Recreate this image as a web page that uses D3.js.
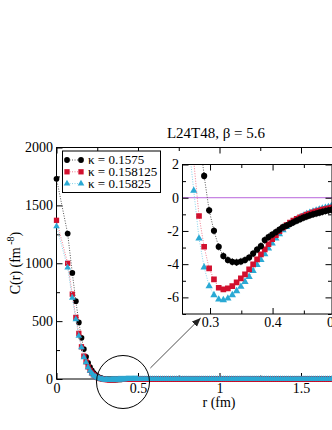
<!DOCTYPE html>
<html>
<meta charset="utf-8">
<head>
  <title>C(r) L24T48</title>
</head>
<style>
  body { margin: 0; background: #fff; }
  svg { display: block; }
  text { font-family: "Liberation Serif", "DejaVu Serif", serif; fill: #000; }
  .axis .domain { display: none; }
  .axis line { stroke: #000; }
  .axis text { font-size: 14px; }
</style>
<script src="https://d3js.org/d3.v7.min.js"></script>
<body>
<svg width="332" height="430"></svg>
<script>
  // lattice distances r (fm)
  var rLattice = [0, 0.0685, 0.0969, 0.1186, 0.137, 0.1532, 0.1678, 0.1812, 0.1937, 0.2055,
    0.2166, 0.2272, 0.2373, 0.247, 0.2563, 0.2653, 0.274, 0.2824, 0.2906, 0.2986,
    0.3063, 0.3139, 0.3213, 0.3285, 0.3356, 0.3425, 0.3493, 0.3559, 0.3625, 0.3689,
    0.3752, 0.3814, 0.3875, 0.3935, 0.3994, 0.4053, 0.411, 0.4167, 0.4223, 0.4278,
    0.4332, 0.4386, 0.4439, 0.4492, 0.4544, 0.4595, 0.4646, 0.4696, 0.4746, 0.4795,
    0.4844, 0.4892, 0.494, 0.4987];

  var cBlack = [1730, 1256, 916, 672, 489, 356, 259, 192, 140, 102, 74, 53, 37, 26, 17, 11, 7, 4.0,
    1.31, -0.76, -1.99, -2.95, -3.51, -3.75, -3.86, -3.89, -3.84, -3.75, -3.60, -3.36, -3.12, -2.91,
    -2.55, -2.37, -2.22, -2.07, -1.92, -1.77, -1.68, -1.58, -1.48, -1.38, -1.29, -1.2, -1.13, -1.06,
    -1.0, -0.95, -0.9, -0.85, -0.8, -0.76, -0.73, -0.7];
  var cRed = [1371, 1000, 733, 532, 394, 278, 198, 149, 105, 75, 52, 36, 24, 15, 9, 5, 2.2, -1.10,
    -2.95, -4.25, -4.92, -5.42, -5.52, -5.46, -5.32, -5.10, -4.86, -4.61, -4.31, -4.01, -3.71, -3.41,
    -3.11, -2.8, -2.5, -2.25, -2.02, -1.8, -1.64, -1.5, -1.38, -1.27, -1.18, -1.1, -1.02, -0.95,
    -0.88, -0.82, -0.77, -0.72, -0.68, -0.64, -0.6, -0.57];
  var cCyan = [1319, 962, 701, 515, 373, 273, 187, 145, 100, 70, 48, 32, 21, 13, 7.5, 3.5, 0.42, -2.45,
    -4.19, -5.32, -5.86, -6.12, -6.16, -6.06, -5.86, -5.62, -5.36, -5.06, -4.76, -4.40, -4.05, -3.75,
    -3.39, -3.05, -2.75, -2.45, -2.2, -1.95, -1.75, -1.58, -1.43, -1.3, -1.18, -1.08, -0.98, -0.9,
    -0.83, -0.76, -0.7, -0.65, -0.6, -0.55, -0.5, -0.47];

  // long-distance tail (near zero on the main scale)
  var rTail = [
    0.5125, 0.525, 0.5375, 0.55, 0.5625, 0.575, 0.5875, 0.6,
    0.6125, 0.625, 0.6375, 0.65, 0.6625, 0.675, 0.6875, 0.7,
    0.7125, 0.725, 0.7375, 0.75, 0.7625, 0.775, 0.7875, 0.8,
    0.8125, 0.825, 0.8375, 0.85, 0.8625, 0.875, 0.8875, 0.9,
    0.9125, 0.925, 0.9375, 0.95, 0.9625, 0.975, 0.9875, 1.0,
    1.0125, 1.025, 1.0375, 1.05, 1.0625, 1.075, 1.0875, 1.1,
    1.1125, 1.125, 1.1375, 1.15, 1.1625, 1.175, 1.1875, 1.2,
    1.2125, 1.225, 1.2375, 1.25, 1.2625, 1.275, 1.2875, 1.3,
    1.3125, 1.325, 1.3375, 1.35, 1.3625, 1.375, 1.3875, 1.4,
    1.4125, 1.425, 1.4375, 1.45, 1.4625, 1.475, 1.4875, 1.5,
    1.5125, 1.525, 1.5375, 1.55, 1.5625, 1.575, 1.5875, 1.6,
    1.6125, 1.625, 1.6375, 1.65, 1.6625, 1.675, 1.6875, 1.7,
    1.7125, 1.725, 1.7375, 1.75];
  var cTail = [
    -0.55, -0.52, -0.48, -0.45, -0.42, -0.39, -0.36, -0.34,
    -0.32, -0.3, -0.28, -0.26, -0.24, -0.23, -0.21, -0.2,
    -0.19, -0.18, -0.17, -0.16, -0.15, -0.14, -0.13, -0.12,
    -0.12, -0.11, -0.1, -0.1, -0.09, -0.09, -0.08, -0.08,
    -0.07, -0.07, -0.06, -0.06, -0.06, -0.06, -0.05, -0.05,
    -0.05, -0.05, -0.04, -0.04, -0.04, -0.04, -0.04, -0.04,
    -0.03, -0.03, -0.03, -0.03, -0.03, -0.03, -0.03, -0.03,
    -0.02, -0.02, -0.02, -0.02, -0.02, -0.02, -0.02, -0.02,
    -0.02, -0.02, -0.02, -0.02, -0.01, -0.01, -0.01, -0.01,
    -0.01, -0.01, -0.01, -0.01, -0.01, -0.01, -0.01, -0.01,
    -0.01, -0.01, -0.01, -0.01, -0.01, -0.01, 0, 0,
    0, 0, 0, 0, 0, 0, 0, 0,
    0, 0, 0, 0];

  var kappaLabels = ["\u03ba = 0.1575", "\u03ba = 0.158125", "\u03ba = 0.15825"];
  var blackErr = 0.22;

  var mainXTicks = [0, 0.5, 1, 1.5], mainXMinor = [0.25, 0.75, 1.25, 1.75];
  var mainYTicks = [0, 500, 1000, 1500, 2000], mainYMinor = [250, 750, 1250, 1750];
  var insetXTicks = [0.3, 0.4, 0.5], insetXMinor = [0.35, 0.45];
  var insetYTicks = [2, 0, -2, -4, -6], insetYMinor = [1, -1, -3, -5, -7];

  var svg = d3.select("svg");

  var series = [
    { name: kappaLabels[0], c: cBlack, sym: d3.symbolCircle, size: 26, fill: "#000", line: "#555" },
    { name: kappaLabels[1], c: cRed, sym: d3.symbolSquare, size: 28, fill: "#d2102e", line: "#ee7d90" },
    { name: kappaLabels[2], c: cCyan, sym: d3.symbolTriangle, size: 19, fill: "#2aa9d4", line: "#86d2ea" }
  ];

  // ---------- main plot ----------
  var x = d3.scaleLinear().domain([0, 2]).range([56.5, 382.5]);
  var y = d3.scaleLinear().domain([0, 2000]).range([379, 147.5]);

  function fmt(d) { return String(d); }

  svg.append("g").attr("class", "axis").attr("transform", "translate(0,379)")
    .call(d3.axisBottom(x).tickValues(mainXTicks).tickSize(-6).tickPadding(4).tickFormat(fmt));
  svg.append("g").attr("class", "axis").attr("transform", "translate(0,379)")
    .call(d3.axisBottom(x).tickValues(mainXMinor).tickSize(-3.5).tickFormat(""));
  svg.append("g").attr("class", "axis").attr("transform", "translate(0,147.5)")
    .call(d3.axisTop(x).tickValues(mainXTicks).tickSize(-6).tickFormat(""));
  svg.append("g").attr("class", "axis").attr("transform", "translate(0,147.5)")
    .call(d3.axisTop(x).tickValues(mainXMinor).tickSize(-3.5).tickFormat(""));
  svg.append("g").attr("class", "axis").attr("transform", "translate(56.5,0)")
    .call(d3.axisLeft(y).tickValues(mainYTicks).tickSize(-6).tickPadding(3.5).tickFormat(fmt));
  svg.append("g").attr("class", "axis").attr("transform", "translate(56.5,0)")
    .call(d3.axisLeft(y).tickValues(mainYMinor).tickSize(-3.5).tickFormat(""));

  svg.append("rect")
    .attr("x", x(0)).attr("y", y(2000))
    .attr("width", x(2) - x(0)).attr("height", y(0) - y(2000))
    .attr("fill", "none").attr("stroke", "#000").attr("stroke-width", 1);

  var mainLine = d3.line().x(function(d) { return x(d[0]); }).y(function(d) { return y(d[1]); });

  series.forEach(function(s) {
    var pts = rLattice.map(function(r, i) { return [r, s.c[i]]; })
      .concat(rTail.map(function(r, i) { return [r, cTail[i]]; }));
    svg.append("path").datum(pts)
      .attr("d", mainLine).attr("fill", "none")
      .attr("stroke", s.line).attr("stroke-width", 1).attr("stroke-dasharray", "1,1.5");
    svg.append("g").selectAll("path").data(pts).enter().append("path")
      .attr("transform", function(d) { return "translate(" + x(d[0]) + "," + y(d[1]) + ")"; })
      .attr("d", d3.symbol().type(s.sym).size(s.size))
      .attr("fill", s.fill);
  });

  // zoom circle and arrow
  svg.append("circle")
    .attr("cx", x(0.408)).attr("cy", y(-26)).attr("r", 26.5)
    .attr("fill", "none").attr("stroke", "#000").attr("stroke-width", 1);

  svg.append("defs").append("marker")
    .attr("id", "head").attr("viewBox", "0 0 10 10")
    .attr("refX", 10).attr("refY", 5)
    .attr("markerWidth", 9).attr("markerHeight", 9)
    .attr("markerUnits", "userSpaceOnUse")
    .attr("orient", "auto")
    .append("path").attr("d", "M0,1 L10,5 L0,9 Z").attr("fill", "#222");

  svg.append("line")
    .attr("x1", x(0.576)).attr("y1", y(95))
    .attr("x2", x(0.885)).attr("y2", y(528))
    .attr("stroke", "#222").attr("stroke-width", 0.8)
    .attr("marker-end", "url(#head)");

  // ---------- inset ----------
  var xi = d3.scaleLinear().domain([0.256, 0.495]).range([182.5, 332]);
  var yi = d3.scaleLinear().domain([-7, 2]).range([314, 164.5]);

  svg.append("rect")
    .attr("x", xi(0.256)).attr("y", yi(2))
    .attr("width", xi(0.495) - xi(0.256)).attr("height", yi(-7) - yi(2))
    .attr("fill", "#fff");

  svg.select("defs").append("clipPath").attr("id", "insetClip")
    .append("rect")
    .attr("x", xi(0.256)).attr("y", yi(2))
    .attr("width", xi(0.495) - xi(0.256)).attr("height", yi(-7) - yi(2));

  var ig = svg.append("g").attr("clip-path", "url(#insetClip)");

  ig.append("line")
    .attr("x1", xi(0.256)).attr("x2", xi(0.495))
    .attr("y1", yi(0)).attr("y2", yi(0))
    .attr("stroke", "#b865dc").attr("stroke-width", 1);

  var insetLine = d3.line().x(function(d) { return xi(d[0]); }).y(function(d) { return yi(d[1]); });

  series.slice().reverse().forEach(function(s) {
    var pts = rLattice.map(function(r, i) { return [r, s.c[i]]; })
      .filter(function(d) { return d[0] > 0.2; });
    ig.append("path").datum(pts)
      .attr("d", insetLine).attr("fill", "none")
      .attr("stroke", s.line).attr("stroke-width", 1).attr("stroke-dasharray", "1,1.5");
    var vis = pts.filter(function(d) { return d[1] <= 2.2 && d[1] >= -7.2; });
    if (s.c === cBlack) {
      ig.append("g").selectAll("line").data(vis).enter().append("line")
        .attr("x1", function(d) { return xi(d[0]); }).attr("x2", function(d) { return xi(d[0]); })
        .attr("y1", function(d) { return yi(d[1] - blackErr); })
        .attr("y2", function(d) { return yi(d[1] + blackErr); })
        .attr("stroke", "#000").attr("stroke-width", 0.8);
    }
    ig.append("g").selectAll("path").data(vis).enter().append("path")
      .attr("transform", function(d) { return "translate(" + xi(d[0]) + "," + yi(d[1]) + ")"; })
      .attr("d", d3.symbol().type(s.sym).size(s.size + 4))
      .attr("fill", s.fill);
  });

  svg.append("g").attr("class", "axis").attr("transform", "translate(0,314)")
    .call(d3.axisBottom(xi).tickValues(insetXTicks).tickSize(-6).tickPadding(3).tickFormat(fmt));
  svg.append("g").attr("class", "axis").attr("transform", "translate(0,314)")
    .call(d3.axisBottom(xi).tickValues(insetXMinor).tickSize(-3.5).tickFormat(""));
  svg.append("g").attr("class", "axis").attr("transform", "translate(0,164.5)")
    .call(d3.axisTop(xi).tickValues(insetXTicks).tickSize(-6).tickFormat(""));
  svg.append("g").attr("class", "axis").attr("transform", "translate(0,164.5)")
    .call(d3.axisTop(xi).tickValues(insetXMinor).tickSize(-3.5).tickFormat(""));
  svg.append("g").attr("class", "axis").attr("transform", "translate(182.5,0)")
    .call(d3.axisLeft(yi).tickValues(insetYTicks).tickSize(-6).tickPadding(3.5).tickFormat(fmt));
  svg.append("g").attr("class", "axis").attr("transform", "translate(182.5,0)")
    .call(d3.axisLeft(yi).tickValues(insetYMinor).tickSize(-3.5).tickFormat(""));
  svg.append("g").attr("class", "axis").attr("transform", "translate(331.5,0)")
    .call(d3.axisRight(yi).tickValues(insetYTicks).tickSize(-6).tickFormat(""));
  svg.append("g").attr("class", "axis").attr("transform", "translate(331.5,0)")
    .call(d3.axisRight(yi).tickValues(insetYMinor).tickSize(-3.5).tickFormat(""));

  svg.append("rect")
    .attr("x", xi(0.256)).attr("y", yi(2))
    .attr("width", xi(0.495) - xi(0.256)).attr("height", yi(-7) - yi(2))
    .attr("fill", "none").attr("stroke", "#000").attr("stroke-width", 1);

  // ---------- legend ----------
  var lg = svg.append("g");
  lg.append("rect")
    .attr("x", 62.5).attr("y", 151).attr("width", 98).attr("height", 41.5)
    .attr("fill", "#fff").attr("stroke", "#000").attr("stroke-width", 1);
  series.forEach(function(s, i) {
    var ly = 160 + i * 11.8;
    lg.append("line").attr("x1", 67).attr("x2", 81).attr("y1", ly).attr("y2", ly)
      .attr("stroke", s.line).attr("stroke-width", 1).attr("stroke-dasharray", "1,1.5");
    [67, 81].forEach(function(px) {
      lg.append("path").attr("transform", "translate(" + px + "," + ly + ")")
        .attr("d", d3.symbol().type(s.sym).size(s.size)).attr("fill", s.fill);
    });
    lg.append("text").attr("x", 88).attr("y", ly + 4.3)
      .style("font-size", "13px").text(s.name);
  });

  // ---------- titles ----------
  svg.append("text").attr("x", 216).attr("y", 138)
    .attr("text-anchor", "middle").style("font-size", "15px")
    .text("L24T48, \u03b2 = 5.6");

  svg.append("text").attr("x", 219).attr("y", 407)
    .attr("text-anchor", "middle").style("font-size", "14px")
    .text("r (fm)");

  var yl = svg.append("text")
    .attr("transform", "translate(20,263) rotate(-90)")
    .attr("text-anchor", "middle").style("font-size", "14px");
  yl.append("tspan").text("C(r) (fm");
  yl.append("tspan").attr("dy", -6).style("font-size", "10px").text(" -8");
  yl.append("tspan").attr("dy", 6).text(")");
</script>
</body>
</html>
